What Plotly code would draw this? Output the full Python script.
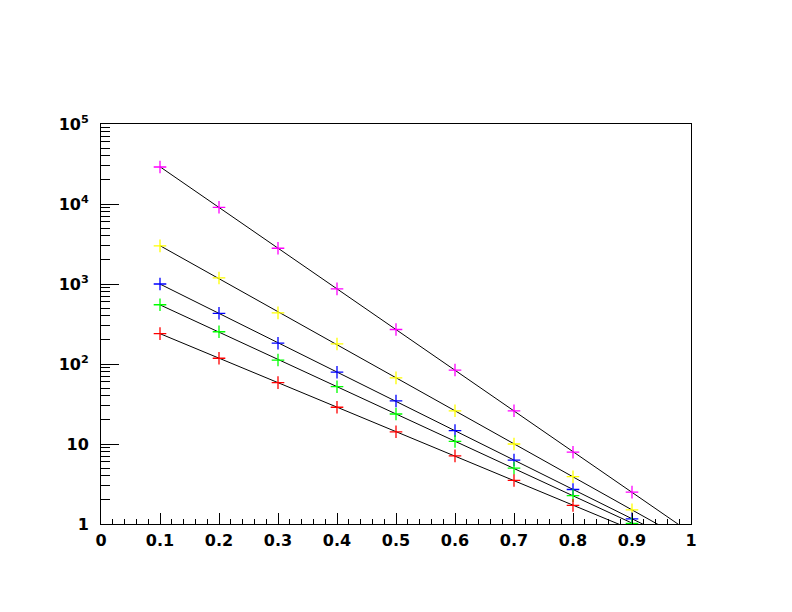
import numpy as np
import plotly.graph_objects as go

x_vals = [0.1, 0.2, 0.3, 0.4, 0.5, 0.6, 0.7, 0.8, 0.9]
magenta_vals = [29000, 9100, 2800, 870, 270, 84, 26, 7.9, 2.5]
yellow_vals = [3000, 1190, 435, 178, 67, 26, 10, 3.9, 1.5]
blue_vals = [1000, 430, 182, 79, 34.5, 14.7, 6.3, 2.7, 1.16]
green_vals = [550, 253, 112, 52, 23.7, 10.8, 5.0, 2.26, 1.02]
red_vals = [240, 118, 58.5, 28.8, 14.2, 7.1, 3.5, 1.71]

series = [
    ("magenta", magenta_vals, "#ff00ff"),
    ("yellow", yellow_vals, "#ffff00"),
    ("blue", blue_vals, "#0000ff"),
    ("green", green_vals, "#00ff00"),
    ("red", red_vals, "#ff0000"),
]

ytick_vals = [1, 10, 100, 1000, 10000, 100000]
ytick_text = ["1", "10", "10<sup>2</sup>", "10<sup>3</sup>", "10<sup>4</sup>", "10<sup>5</sup>"]

fig = go.Figure()
for name, vals, color in series:
    xs = np.array(x_vals[:len(vals)])
    ys = np.array(vals)
    slope, icpt = np.polyfit(xs, np.log10(ys), 1)
    xl = np.array([xs[0], 1.0])
    yl = 10 ** (icpt + slope * xl)
    fig.add_trace(go.Scatter(x=xl, y=yl, mode="lines",
                             line=dict(color="black", width=1),
                             showlegend=False, hoverinfo="skip"))
for name, vals, color in series:
    fig.add_trace(go.Scatter(x=x_vals[:len(vals)], y=vals, mode="markers", name=name,
                             marker=dict(symbol="cross-thin", size=9,
                                         line=dict(color=color, width=1.3)),
                             showlegend=False))

tick_font = dict(family="DejaVu Sans, sans-serif", size=16, color="black", weight="bold")

fig.update_layout(
    width=776, height=596,
    margin=dict(l=93, r=93, t=116, b=80),
    paper_bgcolor="white", plot_bgcolor="white",
    xaxis=dict(range=[0, 1], dtick=0.1, tick0=0, showgrid=False, zeroline=False,
               automargin=False,
               showline=True, linecolor="black", linewidth=1, mirror=True,
               ticks="inside", ticklen=11, tickcolor="black", tickwidth=1,
               tickfont=tick_font, ticklabelstandoff=2,
               minor=dict(dtick=0.02, tick0=0, ticks="inside", ticklen=5, tickcolor="black", showgrid=False)),
    yaxis=dict(type="log", range=[0, 5], tickvals=ytick_vals, ticktext=ytick_text,
               showgrid=False, zeroline=False, automargin=False,
               showline=True, linecolor="black", linewidth=1, mirror=True,
               ticks="inside", ticklen=18, tickcolor="black", tickwidth=1,
               tickfont=tick_font, ticklabelstandoff=8,
               minor=dict(dtick="D1", ticks="inside", ticklen=9, tickcolor="black", showgrid=False)),
)

fig.write_html("out.html")
